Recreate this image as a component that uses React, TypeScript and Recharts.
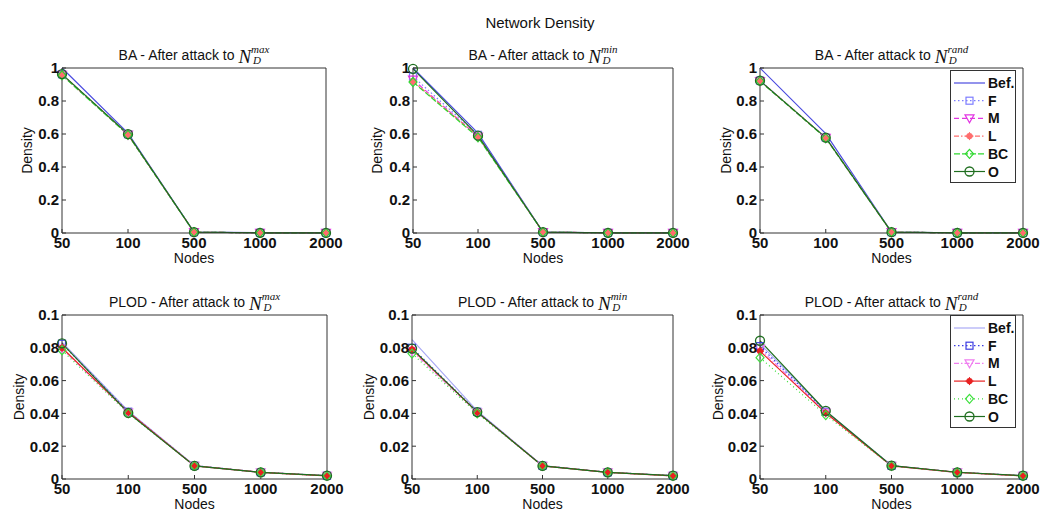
import React from "react";
import { LineChart, Line, XAxis, YAxis, Legend } from "recharts";

const nodes = ["50", "100", "500", "1000", "2000"];
const seriesKeys = ["bef", "f", "m", "l", "bc", "o"];

// BA, attack to N_D^max
const baMaxBef = [1.0, 0.605, 0.006, 0.0015, 0.0008];
const baMaxF = [0.962, 0.598, 0.005, 0.0012, 0.0006];
const baMaxM = [0.958, 0.596, 0.005, 0.0012, 0.0006];
const baMaxL = [0.961, 0.597, 0.005, 0.0012, 0.0006];
const baMaxBC = [0.956, 0.595, 0.005, 0.0012, 0.0006];
const baMaxO = [0.963, 0.599, 0.005, 0.0012, 0.0006];

// BA, attack to N_D^min
const baMinBef = [1.0, 0.605, 0.006, 0.0015, 0.0008];
const baMinF = [0.948, 0.595, 0.005, 0.0012, 0.0006];
const baMinM = [0.93, 0.585, 0.005, 0.0012, 0.0006];
const baMinL = [0.92, 0.586, 0.005, 0.0012, 0.0006];
const baMinBC = [0.915, 0.58, 0.005, 0.0012, 0.0006];
const baMinO = [0.995, 0.59, 0.005, 0.0012, 0.0006];

// BA, attack to N_D^rand
const baRandBef = [1.0, 0.602, 0.006, 0.0015, 0.0008];
const baRandF = [0.924, 0.578, 0.005, 0.0012, 0.0006];
const baRandM = [0.921, 0.576, 0.005, 0.0012, 0.0006];
const baRandL = [0.923, 0.577, 0.005, 0.0012, 0.0006];
const baRandBC = [0.92, 0.575, 0.005, 0.0012, 0.0006];
const baRandO = [0.923, 0.578, 0.005, 0.0012, 0.0006];

// PLOD, attack to N_D^max
const plodMaxBef = [0.0835, 0.0415, 0.0082, 0.0041, 0.002];
const plodMaxF = [0.0825, 0.041, 0.0081, 0.0041, 0.002];
const plodMaxM = [0.0795, 0.0405, 0.008, 0.004, 0.0019];
const plodMaxL = [0.08, 0.0408, 0.008, 0.004, 0.0019];
const plodMaxBC = [0.0785, 0.04, 0.008, 0.004, 0.0019];
const plodMaxO = [0.0827, 0.0403, 0.008, 0.004, 0.002];

// PLOD, attack to N_D^min
const plodMinBef = [0.085, 0.0415, 0.0082, 0.0041, 0.002];
const plodMinF = [0.08, 0.041, 0.0081, 0.0041, 0.002];
const plodMinM = [0.078, 0.0405, 0.008, 0.004, 0.0019];
const plodMinL = [0.079, 0.0408, 0.008, 0.004, 0.0019];
const plodMinBC = [0.0765, 0.04, 0.008, 0.004, 0.0019];
const plodMinO = [0.0795, 0.0408, 0.008, 0.004, 0.002];

// PLOD, attack to N_D^rand
const plodRandBef = [0.0825, 0.0415, 0.0082, 0.0041, 0.002];
const plodRandF = [0.081, 0.041, 0.0081, 0.0041, 0.002];
const plodRandM = [0.0795, 0.0405, 0.008, 0.004, 0.0019];
const plodRandL = [0.078, 0.0402, 0.008, 0.004, 0.0019];
const plodRandBC = [0.074, 0.039, 0.008, 0.004, 0.0019];
const plodRandO = [0.0843, 0.0415, 0.0081, 0.0041, 0.002];

const baTicks = [0, 0.2, 0.4, 0.6, 0.8, 1];
const plodTicks = [0, 0.02, 0.04, 0.06, 0.08, 0.1];

type MarkerKind = "none" | "square" | "tri" | "star" | "diamond" | "circle";
type SeriesStyle = { key: string; name: string; color: string; dash?: string; marker: MarkerKind };

const topStyles: SeriesStyle[] = [
  { key: "bef", name: "Bef.", color: "#4b4be0", marker: "none" },
  { key: "f", name: "F", color: "#7d7dff", dash: "1.5 2.5", marker: "square" },
  { key: "m", name: "M", color: "#e235e2", dash: "5 3", marker: "tri" },
  { key: "l", name: "L", color: "#ff6e6e", dash: "5 2 1.5 2", marker: "star" },
  { key: "bc", name: "BC", color: "#2fd82f", dash: "6 2", marker: "diamond" },
  { key: "o", name: "O", color: "#1f6e1f", marker: "circle" },
];

const bottomStyles: SeriesStyle[] = [
  { key: "bef", name: "Bef.", color: "#a9a9f5", marker: "none" },
  { key: "f", name: "F", color: "#3c3ce2", dash: "1.5 2.5", marker: "square" },
  { key: "m", name: "M", color: "#f07ef0", dash: "5 2 1.5 2", marker: "tri" },
  { key: "l", name: "L", color: "#e82222", marker: "star" },
  { key: "bc", name: "BC", color: "#3ee03e", dash: "1 3", marker: "diamond" },
  { key: "o", name: "O", color: "#1f6e1f", marker: "circle" },
];

function rows(series: number[][]) {
  return nodes.map((node, i) => {
    const r: Record<string, string | number> = { node };
    seriesKeys.forEach((k, j) => (r[k] = series[j][i]));
    return r;
  });
}

function Marker({ kind, cx, cy, color }: { kind: MarkerKind; cx: number; cy: number; color: string }) {
  switch (kind) {
    case "square":
      return <rect x={cx - 3.5} y={cy - 3.5} width={7} height={7} fill="none" stroke={color} strokeWidth={1.2} />;
    case "tri":
      return (
        <polygon
          points={`${cx - 4.5},${cy - 3.5} ${cx + 4.5},${cy - 3.5} ${cx},${cy + 4.5}`}
          fill="none"
          stroke={color}
          strokeWidth={1.2}
        />
      );
    case "star":
      return (
        <g stroke={color} strokeWidth={1.1}>
          <circle cx={cx} cy={cy} r={2.6} fill={color} />
          <line x1={cx - 4} y1={cy} x2={cx + 4} y2={cy} />
          <line x1={cx} y1={cy - 4} x2={cx} y2={cy + 4} />
        </g>
      );
    case "diamond":
      return (
        <polygon
          points={`${cx},${cy - 4.5} ${cx + 4},${cy} ${cx},${cy + 4.5} ${cx - 4},${cy}`}
          fill="none"
          stroke={color}
          strokeWidth={1.2}
        />
      );
    case "circle":
      return <circle cx={cx} cy={cy} r={4.5} fill="none" stroke={color} strokeWidth={1.3} />;
    default:
      return null;
  }
}

function LegendBox({ styles }: { styles: SeriesStyle[] }) {
  return (
    <svg width={66} height={113} style={{ display: "block" }}>
      <rect x={0.5} y={0.5} width={65} height={112} fill="#fff" stroke="#333" />
      {styles.map((s, i) => {
        const y = 13 + i * 17.7;
        return (
          <g key={s.key}>
            <line x1={4} x2={35} y1={y} y2={y} stroke={s.color} strokeWidth={1.2} strokeDasharray={s.dash} />
            <Marker kind={s.marker} cx={19.5} cy={y} color={s.color} />
            <text x={38} y={y + 5} fontSize={14} fontWeight="bold" fill="#111">
              {s.name}
            </text>
          </g>
        );
      })}
    </svg>
  );
}

type PanelDef = {
  prefix: string;
  sup: string;
  supWidth: number;
  left: number;
  top: number;
  w: number;
  h: number;
  yMax: number;
  ticks: number[];
  data: Record<string, string | number>[];
  styles: SeriesStyle[];
  labelOffset: number;
  legendY?: number;
};

const panels: PanelDef[] = [
  { prefix: "BA - After attack to", sup: "max", supWidth: 18, left: 62, top: 68, w: 264, h: 165, yMax: 1, ticks: baTicks,
    data: rows([baMaxBef, baMaxF, baMaxM, baMaxL, baMaxBC, baMaxO]), styles: topStyles, labelOffset: 20 },
  { prefix: "BA - After attack to", sup: "min", supWidth: 16.5, left: 413, top: 68, w: 260, h: 165, yMax: 1, ticks: baTicks,
    data: rows([baMinBef, baMinF, baMinM, baMinL, baMinBC, baMinO]), styles: topStyles, labelOffset: 19 },
  { prefix: "BA - After attack to", sup: "rand", supWidth: 21, left: 760, top: 68, w: 263, h: 165, yMax: 1, ticks: baTicks,
    data: rows([baRandBef, baRandF, baRandM, baRandL, baRandBC, baRandO]), styles: topStyles, labelOffset: 21, legendY: 70 },
  { prefix: "PLOD - After attack to", sup: "max", supWidth: 18, left: 62, top: 315, w: 265, h: 164, yMax: 0.1, ticks: plodTicks,
    data: rows([plodMaxBef, plodMaxF, plodMaxM, plodMaxL, plodMaxBC, plodMaxO]), styles: bottomStyles, labelOffset: 12 },
  { prefix: "PLOD - After attack to", sup: "min", supWidth: 16.5, left: 412, top: 315, w: 261, h: 164, yMax: 0.1, ticks: plodTicks,
    data: rows([plodMinBef, plodMinF, plodMinM, plodMinL, plodMinBC, plodMinO]), styles: bottomStyles, labelOffset: 12 },
  { prefix: "PLOD - After attack to", sup: "rand", supWidth: 21, left: 760, top: 315, w: 263, h: 164, yMax: 0.1, ticks: plodTicks,
    data: rows([plodRandBef, plodRandF, plodRandM, plodRandL, plodRandBC, plodRandO]), styles: bottomStyles, labelOffset: 13, legendY: 315 },
];

// y-axis width, right / top / bottom margins, x-axis height
const YW = 55;
const RM = 24;
const TM = 12;
const BM = 4;
const BH = 30;
const LEGEND_X = 950;

const fmt = (v: number) => String(+v.toFixed(2));
const tickFont = { fill: "#111", fontSize: 15, fontWeight: "bold" as const };

function Panel({ p }: { p: PanelDef }) {
  const chartLeft = p.left - YW;
  const chartTop = p.top - TM - 1;
  const W = YW + p.w + 1 + RM;
  const H = TM + 1 + p.h + BH + BM;
  return (
    <div style={{ position: "absolute", left: chartLeft, top: chartTop }}>
      <LineChart width={W} height={H} data={p.data} margin={{ top: TM, right: RM, bottom: BM, left: 0 }}>
        <XAxis
          dataKey="node"
          height={BH}
          interval={0}
          stroke="#333"
          tickSize={-4}
          tickMargin={8}
          tick={tickFont}
          label={{ value: "Nodes", position: "insideBottom", offset: 0, fill: "#111", fontSize: 14 }}
        />
        <XAxis xAxisId="top" orientation="top" dataKey="node" height={1} interval={0} stroke="#333" tickSize={-4} tick={false} />
        <YAxis
          width={YW}
          domain={[0, p.yMax]}
          ticks={p.ticks}
          interval={0}
          stroke="#333"
          tickSize={-4}
          tickMargin={7}
          tick={tickFont}
          tickFormatter={fmt}
          label={{
            value: "Density",
            angle: -90,
            position: "insideLeft",
            offset: p.labelOffset,
            fill: "#111",
            fontSize: 14,
            style: { textAnchor: "middle" },
          }}
        />
        <YAxis yAxisId="right" orientation="right" width={1} domain={[0, p.yMax]} ticks={p.ticks} interval={0} stroke="#333" tickSize={-4} tick={false} />
        {p.styles.map((s) => (
          <Line
            key={s.key}
            dataKey={s.key}
            name={s.name}
            stroke={s.color}
            strokeWidth={1.2}
            strokeDasharray={s.dash}
            isAnimationActive={false}
            activeDot={false}
            dot={
              s.marker === "none"
                ? false
                : (d: any) => <Marker key={`${s.key}-${d.index}`} kind={s.marker} cx={d.cx} cy={d.cy} color={s.color} />
            }
          />
        ))}
        {p.legendY !== undefined && (
          <Legend
            layout="vertical"
            align="center"
            verticalAlign="middle"
            wrapperStyle={{ position: "absolute", left: LEGEND_X - chartLeft, top: p.legendY - chartTop, width: 66, height: 113 }}
            content={() => <LegendBox styles={p.styles} />}
          />
        )}
      </LineChart>
    </div>
  );
}

function PanelTitle({ p }: { p: PanelDef }) {
  const serif = '"Liberation Serif", "DejaVu Serif", serif';
  return (
    <text x={p.left + p.w / 2} y={p.top - 8} textAnchor="middle" fontSize={14} fill="#111">
      {p.prefix + " "}
      <tspan fontFamily={serif} fontStyle="italic" fontSize={19} dy={2.5}>
        N
      </tspan>
      <tspan fontFamily={serif} fontStyle="italic" fontSize={11} dy={-9.5}>
        {p.sup}
      </tspan>
      <tspan fontFamily={serif} fontStyle="italic" fontSize={11} dx={-p.supWidth + 1.5} dy={10.5}>
        D
      </tspan>
    </text>
  );
}

export default function App() {
  return (
    <div
      style={{
        position: "absolute",
        left: 0,
        top: 0,
        width: 1040,
        height: 511,
        overflow: "hidden",
        background: "#fff",
        fontFamily: '"Liberation Sans", Arial, sans-serif',
      }}
    >
      {panels.map((p, i) => (
        <Panel key={i} p={p} />
      ))}
      <svg width={1040} height={511} style={{ position: "absolute", left: 0, top: 0, pointerEvents: "none" }}>
        <text x={540} y={28} textAnchor="middle" fontSize={15} fill="#111">
          Network Density
        </text>
        {panels.map((p, i) => (
          <PanelTitle key={i} p={p} />
        ))}
      </svg>
    </div>
  );
}
